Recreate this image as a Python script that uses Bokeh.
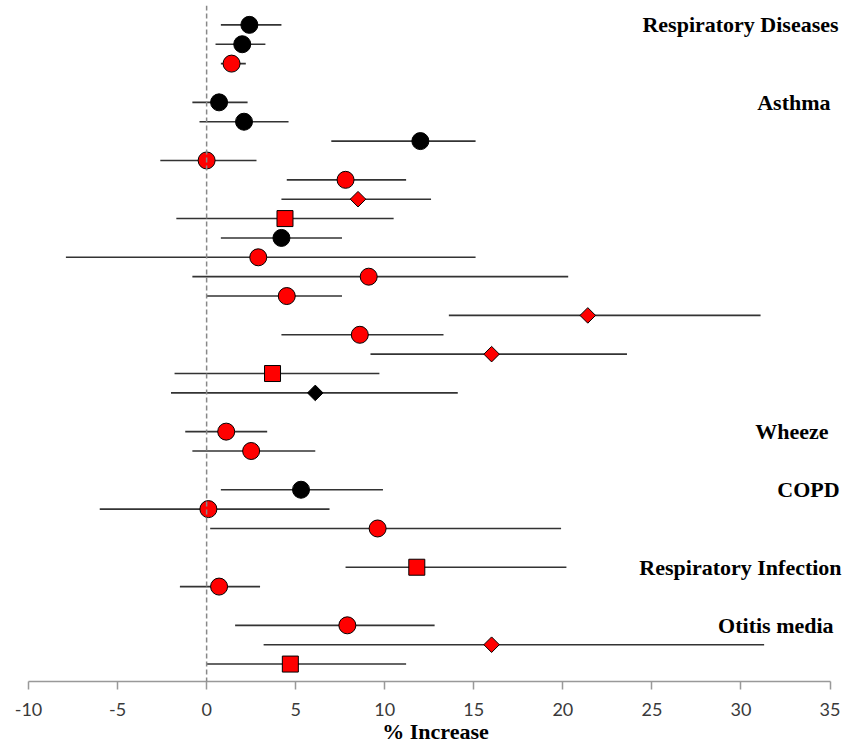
from bokeh.plotting import figure
from bokeh.models import ColumnDataSource, Span, Label, FixedTicker
from bokeh.embed import file_html
from bokeh.resources import INLINE
import math

# Outcome groups and the number of estimates listed under each
groups = ["Respiratory Diseases", "Asthma", "Wheeze", "COPD",
          "Respiratory Infection", "Otitis media"]
group_sizes = [3, 16, 2, 3, 2, 3]

# Percent increase with lower / upper confidence limits, top to bottom
estimate = [2.4, 2.0, 1.4,
            0.7, 2.1, 12.0, 0.0, 7.8, 8.5, 4.4, 4.2, 2.9, 9.1, 4.5, 21.4, 8.6, 16.0, 3.7, 6.1,
            1.1, 2.5,
            5.3, 0.1, 9.6,
            11.8, 0.7,
            7.9, 16.0, 4.7]
lower = [0.8, 0.5, 0.8,
         -0.8, -0.4, 7.0, -2.6, 4.5, 4.2, -1.7, 0.8, -7.9, -0.8, 0.0, 13.6, 4.2, 9.2, -1.8, -2.0,
         -1.2, -0.8,
         0.8, -6.0, 0.2,
         7.8, -1.5,
         1.6, 3.2, 0.0]
upper = [4.2, 3.3, 2.2,
         2.3, 4.6, 15.1, 2.8, 11.2, 12.6, 10.5, 7.6, 15.1, 20.3, 7.6, 31.1, 13.3, 23.6, 9.7, 14.1,
         3.4, 6.1,
         9.9, 6.9, 19.9,
         20.2, 3.0,
         12.8, 31.3, 11.2]
shape = ["circle", "circle", "circle",
         "circle", "circle", "circle", "circle", "circle", "diamond", "square", "circle",
         "circle", "circle", "circle", "diamond", "circle", "diamond", "square", "diamond",
         "circle", "circle",
         "circle", "circle", "circle",
         "square", "circle",
         "circle", "diamond", "square"]
tone = ["black", "black", "red",
        "black", "black", "black", "red", "red", "red", "red", "black",
        "red", "red", "red", "red", "red", "red", "red", "black",
        "red", "red",
        "black", "red", "red",
        "red", "red",
        "red", "red", "red"]

x_ticks = [-10, -5, 0, 5, 10, 15, 20, 25, 30, 35]

# Row positions: one row per estimate, a blank row between groups
rows, group_rows = [], []
r = 0
for n in group_sizes:
    group_rows.append(r)
    rows.extend(range(r, r + n))
    r += n + 1

marker_map = {"circle": "circle", "square": "square", "diamond": "square"}
size_map = {"circle": 17, "square": 16, "diamond": 11}
angle_map = {"circle": 0.0, "square": 0.0, "diamond": math.pi / 4}
color_map = {"red": "#FF0000", "black": "#000000"}

src = ColumnDataSource(dict(
    y=rows, est=estimate, lo=lower, hi=upper,
    marker=[marker_map[s] for s in shape],
    size=[size_map[s] for s in shape],
    angle=[angle_map[s] for s in shape],
    fill=[color_map[t] for t in tone],
))

# The x range runs a little past the last tick so the headings have room;
# the axis line itself stops at the last tick.
p = figure(width=842, height=746, x_range=(-10, 35.7), y_range=(33.9, -1),
           output_backend="svg", toolbar_location=None,
           min_border_left=28, min_border_right=0, min_border_top=5,
           min_border_bottom=64)
p.outline_line_color = None
p.xgrid.visible = False
p.ygrid.visible = False
p.yaxis.visible = False

p.add_layout(Span(location=0, dimension="height", line_color="#888888",
                  line_width=1.5, line_dash="5 3"))

p.segment(x0="lo", y0="y", x1="hi", y1="y", source=src,
          line_color="#333333", line_width=1.6)
p.scatter(x="est", y="y", marker="marker", size="size", angle="angle",
          fill_color="fill", line_color="#000000", line_width=1, source=src)

ax = p.xaxis[0]
ax.bounds = (x_ticks[0], x_ticks[-1])
ax.ticker = FixedTicker(ticks=x_ticks)
ax.major_label_overrides = {t: str(t) for t in x_ticks}
ax.axis_line_color = "#999999"
ax.axis_line_width = 1.5
ax.major_tick_line_color = "#999999"
ax.major_tick_line_width = 1.5
ax.major_tick_out = 8
ax.major_tick_in = 0
ax.minor_tick_line_color = None
ax.major_label_text_font = "Lato"
ax.major_label_text_font_size = "18px"
ax.major_label_text_color = "#3a3a3a"
ax.major_label_standoff = 13
ax.axis_label = "% Increase"
ax.axis_label_text_font = "Liberation Serif"
ax.axis_label_text_font_style = "bold"
ax.axis_label_text_font_size = "22px"
ax.axis_label_text_color = "#000000"
ax.axis_label_standoff = 0

# Group headings near the right edge
label_right = [35.48, 35.03, 34.92, 35.54, 35.65, 35.2]
for name, gr, xr in zip(groups, group_rows, label_right):
    p.add_layout(Label(x=xr, y=gr, text=name, text_align="right",
                       text_baseline="middle", text_font="Liberation Serif",
                       text_font_style="bold", text_font_size="22px",
                       text_color="#000000"))

open("out.html", "w").write(file_html(p, INLINE))
